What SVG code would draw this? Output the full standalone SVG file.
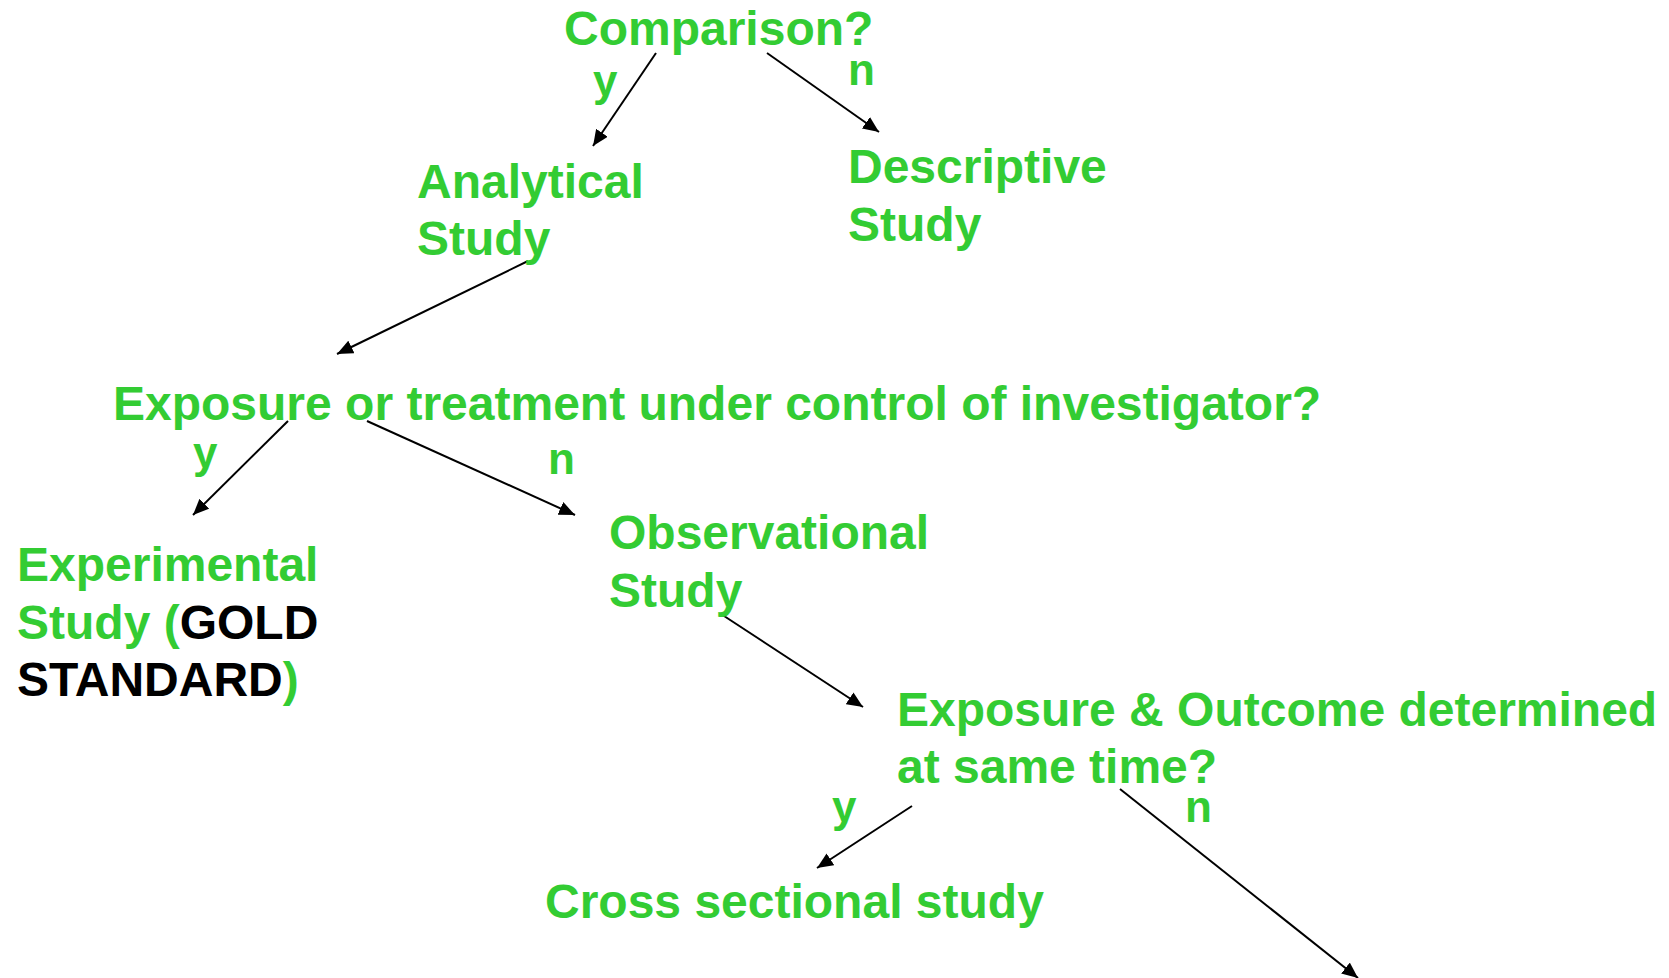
<svg xmlns="http://www.w3.org/2000/svg" width="1669" height="978" viewBox="0 0 1669 978">
<style>
text{font-family:"Liberation Sans",Arial,sans-serif;font-weight:bold;font-size:48px;fill:#33CC33}
.k{fill:#000}
.c{stroke:#000;stroke-width:2;fill:none;marker-end:url(#ah)}
</style>
<defs>
<marker id="ah" markerUnits="userSpaceOnUse" markerWidth="18" markerHeight="14" refX="16" refY="7" orient="auto">
<path d="M0,0 L16,7 L0,14 Z" fill="#000"/>
</marker>
</defs>
<rect width="1669" height="978" fill="#fff"/>
<g id="connectors">
<line class="c" x1="656" y1="53" x2="593" y2="146"/>
<line class="c" x1="767" y1="53" x2="879" y2="132"/>
<line class="c" x1="528" y1="261" x2="337" y2="354"/>
<line class="c" x1="288" y1="421" x2="193" y2="515"/>
<line class="c" x1="367" y1="421" x2="575" y2="515"/>
<line class="c" x1="721" y1="614" x2="863" y2="707"/>
<line class="c" x1="912" y1="806" x2="817" y2="868"/>
<line class="c" x1="1120" y1="789" x2="1358" y2="978"/>
</g>
<g id="labels">
<text x="593" y="96" style="font-size:44px">y</text>
<text x="848" y="85" style="font-size:44px">n</text>
<text x="193" y="468" style="font-size:44px">y</text>
<text x="548" y="474" style="font-size:44px">n</text>
<text x="832" y="822" style="font-size:44px">y</text>
<text x="1185" y="822" style="font-size:44px">n</text>
</g>
<g id="comparison"><text x="564" y="45">Comparison?</text></g>
<g id="analytical"><text x="417" y="198">Analytical</text><text x="417" y="255">Study</text></g>
<g id="descriptive"><text x="848" y="183">Descriptive</text><text x="848" y="241">Study</text></g>
<g id="exposure"><text x="113" y="420">Exposure or treatment under control of investigator?</text></g>
<g id="experimental"><text x="17" y="581">Experimental</text><text x="17" y="639">Study (<tspan class="k">GOLD</tspan></text><text x="17" y="696"><tspan class="k">STANDARD</tspan>)</text></g>
<g id="observational"><text x="609" y="549">Observational</text><text x="609" y="607">Study</text></g>
<g id="same-time"><text x="897" y="726">Exposure &amp; Outcome determined</text><text x="897" y="783">at same time?</text></g>
<g id="cross-sectional"><text x="545" y="918">Cross sectional study</text></g>
</svg>
